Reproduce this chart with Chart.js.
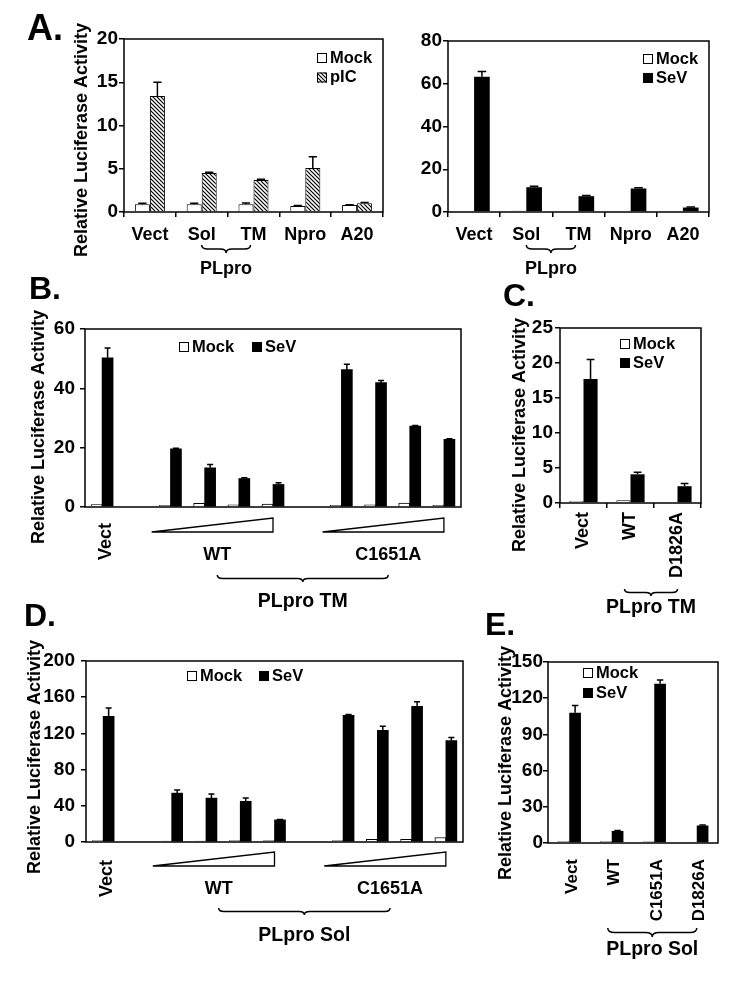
<!DOCTYPE html>
<html><head><meta charset="utf-8">
<script src="https://cdn.jsdelivr.net/npm/chart.js@4.4.1/dist/chart.umd.min.js"></script>
<style>
html,body{margin:0;padding:0;background:#fff;width:729px;height:982px;overflow:hidden}
canvas{position:absolute;left:0;top:0}
</style></head><body>
<canvas id="cA1" width="729" height="982"></canvas>
<canvas id="cA2" width="729" height="982"></canvas>
<canvas id="cB" width="729" height="982"></canvas>
<canvas id="cC" width="729" height="982"></canvas>
<canvas id="cD" width="729" height="982"></canvas>
<canvas id="cE" width="729" height="982"></canvas>
<script>
// ---------------- DATA ----------------
const A1_categories = ['Vect', 'Sol', 'TM', 'Npro', 'A20'];
const A1_mock = [0.9, 0.9, 0.9, 0.7, 0.8];
const A1_mockErr = [0.1, 0.1, 0.15, 0.05, 0.05];
const A1_pIC = [13.4, 4.5, 3.7, 5.1, 1.0];
const A1_pICErr = [1.6, 0.1, 0.1, 1.3, 0.1];
const A1_yTicks = [0, 5, 10, 15, 20];

const A2_categories = ['Vect', 'Sol', 'TM', 'Npro', 'A20'];
const A2_mock = [0.5, 0.6, 0.4, 0.5, 0.4];
const A2_SeV = [63.3, 11.6, 7.4, 11.0, 2.1];
const A2_SeVErr = [2.4, 0.4, 0.3, 0.4, 0.2];
const A2_yTicks = [0, 20, 40, 60, 80];

const B_categories = ['Vect', '', 'WT 1', 'WT 2', 'WT 3', 'WT 4', ' ', 'C1651A 1', 'C1651A 2', 'C1651A 3', 'C1651A 4'];
const B_mock = [0.8, null, 0.6, 1.2, 0.7, 1.0, null, 0.6, 0.7, 1.3, 0.6];
const B_SeV = [50.3, null, 19.6, 13.2, 9.6, 7.6, null, 46.3, 41.9, 27.3, 22.8];
const B_SeVErr = [3.3, null, 0.2, 1.1, 0.3, 0.6, null, 1.8, 0.7, 0.2, 0.2];
const B_yTicks = [0, 20, 40, 60];
const B_groups = ['WT', 'C1651A'];

const C_categories = ['Vect', 'WT', 'D1826A'];
const C_mock = [0.3, 0.4, 0.1];
const C_SeV = [17.7, 4.1, 2.4];
const C_SeVErr = [2.8, 0.3, 0.4];
const C_yTicks = [0, 5, 10, 15, 20, 25];

const D_categories = ['Vect', '', 'WT 1', 'WT 2', 'WT 3', 'WT 4', ' ', 'C1651A 1', 'C1651A 2', 'C1651A 3', 'C1651A 4'];
const D_mock = [1.5, null, 1.0, 1.0, 1.5, 1.5, null, 1.5, 3.0, 3.0, 5.0];
const D_SeV = [139, null, 54, 48.5, 45, 24.5, null, 140, 123.5, 150, 112];
const D_SeVErr = [9, null, 3.5, 4.5, 3.5, 0.5, null, 1, 4.5, 5, 3.5];
const D_yTicks = [0, 40, 80, 120, 160, 200];
const D_groups = ['WT', 'C1651A'];

const E_categories = ['Vect', 'WT', 'C1651A', 'D1826A'];
const E_mock = [1.5, 1.5, 1.2, 0.5];
const E_SeV = [108, 10, 132, 14.5];
const E_SeVErr = [6, 0.3, 3, 0.5];
const E_yTicks = [0, 30, 60, 90, 120, 150];

const Y_TITLE = 'Relative Luciferase Activity';

// ---------------- STYLE / HELPERS ----------------
const FONT = '"Liberation Sans", Arial, Helvetica, sans-serif';
const f = sz => 'bold ' + sz + 'px ' + FONT;
Chart.defaults.font.family = FONT;
Chart.defaults.font.weight = 'bold';
Chart.defaults.color = '#000';

function hatchPattern(ctx) {
  const c = document.createElement('canvas'); c.width = 4; c.height = 4;
  const g = c.getContext('2d');
  g.fillStyle = '#fff'; g.fillRect(0, 0, 4, 4);
  g.strokeStyle = '#000'; g.lineWidth = 1.2;
  g.beginPath();
  g.moveTo(-1, -1); g.lineTo(5, 5);
  g.moveTo(-1, 3); g.lineTo(1, 5);
  g.moveTo(3, -1); g.lineTo(5, 1);
  g.stroke();
  return ctx.createPattern(c, 'repeat');
}

function brace(ctx, x1, x2, y, h) {
  const xm = (x1 + x2) / 2, r = h / 2;
  ctx.beginPath();
  ctx.moveTo(x1, y);
  ctx.quadraticCurveTo(x1, y + r, x1 + r * 1.5, y + r);
  ctx.lineTo(xm - r * 1.5, y + r);
  ctx.quadraticCurveTo(xm, y + r, xm, y + h);
  ctx.quadraticCurveTo(xm, y + r, xm + r * 1.5, y + r);
  ctx.lineTo(x2 - r * 1.5, y + r);
  ctx.quadraticCurveTo(x2, y + r, x2, y);
  ctx.stroke();
}

function text(ctx, s, x, y, sz, align, rot) {
  ctx.save();
  ctx.font = f(sz); ctx.fillStyle = '#000';
  ctx.textAlign = align || 'center'; ctx.textBaseline = 'middle';
  ctx.translate(x, y);
  if (rot) ctx.rotate(rot);
  ctx.fillText(s, 0, 0);
  ctx.restore();
}

function figurePlugin(o) {
  return {
    id: 'figure',
    afterDatasetsDraw(chart) {
      const ctx = chart.ctx, ys = chart.scales.y;
      ctx.save();
      ctx.strokeStyle = '#000'; ctx.lineWidth = 1.5;
      chart.data.datasets.forEach((ds, i) => {
        if (!ds.errors) return;
        chart.getDatasetMeta(i).data.forEach((bar, j) => {
          const v = ds.data[j], e = ds.errors[j];
          if (v == null || e == null) return;
          const top = ys.getPixelForValue(v + e);
          const cw = bar.width * 0.55;
          ctx.beginPath();
          ctx.moveTo(bar.x, bar.y); ctx.lineTo(bar.x, top);
          ctx.moveTo(bar.x - cw / 2, top); ctx.lineTo(bar.x + cw / 2, top);
          ctx.stroke();
        });
      });
      ctx.restore();
    },
    afterDraw(chart) {
      const ctx = chart.ctx, a = chart.chartArea;
      ctx.save();
      ctx.strokeStyle = '#000'; ctx.lineWidth = 1.5;
      ctx.strokeRect(a.left, a.top, a.right - a.left, a.bottom - a.top);
      // legend
      const L = o.legend;
      chart.data.datasets.forEach((ds, k) => {
        const bx = L.x + k * (L.dx || 0), cy = L.y + k * (L.dy || 0);
        ctx.fillStyle = ds.backgroundColor;
        ctx.fillRect(bx, cy - 5, 10, 10);
        ctx.lineWidth = 1; ctx.strokeStyle = '#000';
        ctx.strokeRect(bx + 0.5, cy - 4.5, 9, 9);
        text(ctx, ds.label, bx + 13, cy, 16.5, 'left');
      });
      // panel letter and y title
      if (o.letter) text(ctx, o.letter.t, o.letter.x, o.letter.y, o.letter.sz, 'left');
      if (o.yTitle) text(ctx, Y_TITLE, o.yTitle.x, o.yTitle.y, 18, 'center', -Math.PI / 2);
      ctx.lineWidth = 1.5; ctx.strokeStyle = '#000';
      if (o.decor) o.decor(chart, ctx);
      ctx.restore();
    }
  };
}

function panel(id, o) {
  const ar = o.area;
  return new Chart(document.getElementById(id), {
    type: 'bar',
    data: { labels: o.labels, datasets: o.datasets },
    options: {
      responsive: false, animation: false,
      layout: { padding: { left: 0, top: ar.t, right: 729 - ar.r, bottom: 0 } },
      plugins: { legend: { display: false }, tooltip: { enabled: false } },
      datasets: { bar: { categoryPercentage: o.catPct || 0.6, barPercentage: 1, barThickness: o.barThickness } },
      scales: {
        x: {
          grid: { display: !!o.xTicks, drawOnChartArea: false, drawTicks: true, tickLength: 5, color: '#000', lineWidth: 1.5, offset: true },
          border: { display: false },
          ticks: {
            autoSkip: false, minRotation: o.rot || 0, maxRotation: o.rot || 0, padding: o.xPad,
            labelOffset: o.labelOffset || 0,
            font: { size: o.xFont || 18, weight: 'bold' }, color: '#000',
            callback: function (v) { const l = this.getLabelForValue(v); return o.xLabel ? o.xLabel(l) : l; }
          },
          afterFit: s => { s.height = 982 - ar.b; s.paddingLeft = 0; s.paddingRight = 0; }
        },
        y: {
          min: o.yTicks[0], max: o.yTicks[o.yTicks.length - 1],
          afterBuildTicks: s => { s.ticks = o.yTicks.map(v => ({ value: v })); },
          grid: { display: true, drawOnChartArea: false, drawTicks: true, tickLength: 5, color: '#000', lineWidth: 1.5 },
          border: { display: false },
          ticks: { padding: o.yPad, font: { size: 19, weight: 'bold' }, color: '#000' },
          afterFit: s => { s.width = ar.l; s.paddingTop = 0; s.paddingBottom = 0; }
        }
      }
    },
    plugins: [figurePlugin(o)]
  });
}

const mockStyle = { backgroundColor: '#ffffff', borderColor: '#000', borderWidth: 1 };
const sevStyle = { backgroundColor: '#000000', borderColor: '#000', borderWidth: 0 };

// ---------- decorations ----------
function aDecor(chart, ctx) {
  const x = chart.scales.x, b = chart.chartArea.bottom;
  const x1 = x.getPixelForValue(1), x2 = x.getPixelForValue(2) - 3;
  brace(ctx, x1, x2, b + 33, 8);
  text(ctx, 'PLpro', (x1 + x2) / 2, b + 57, 18);
}

function wedgeDecor(groups, construct, off) {
  return (chart, ctx) => {
    const x = chart.scales.x, b = chart.chartArea.bottom, labels = chart.data.labels;
    const w = x.getPixelForValue(1) - x.getPixelForValue(0);
    const mids = [];
    groups.forEach(g => {
      const idx = labels.map((l, i) => l.indexOf(g + ' ') === 0 ? i : -1).filter(i => i >= 0);
      const left = x.getPixelForValue(idx[0]) - 0.55 * w;
      const right = x.getPixelForValue(idx[idx.length - 1]);
      ctx.save();
      ctx.beginPath();
      ctx.moveTo(left, b + off.triB); ctx.lineTo(right, b + off.triT); ctx.lineTo(right, b + off.triB);
      ctx.closePath();
      ctx.fillStyle = '#fff'; ctx.fill();
      ctx.lineWidth = 1.3; ctx.stroke();
      ctx.restore();
      const m = (left + right) / 2 + 5;
      mids.push(m);
      text(ctx, g, m, b + off.lab, 18);
    });
    brace(ctx, mids[0], mids[1], b + off.brace, off.bh);
    text(ctx, construct, (mids[0] + mids[1]) / 2, b + off.title, 19.5);
  };
}

function rotBraceDecor(firstCat, lastCat, construct, off) {
  return (chart, ctx) => {
    const x = chart.scales.x, b = chart.chartArea.bottom, labels = chart.data.labels;
    const x1 = x.getPixelForValue(labels.indexOf(firstCat)) - off.shift;
    const x2 = x.getPixelForValue(labels.indexOf(lastCat));
    brace(ctx, x1, x2, b + off.brace, off.bh);
    text(ctx, construct, (x1 + x2) / 2, b + off.title, 19.5);
  };
}

// ---------- charts ----------
const pIC = hatchPattern(document.getElementById('cA1').getContext('2d'));

panel('cA1', {
  labels: A1_categories,
  datasets: [
    Object.assign({ label: 'Mock', data: A1_mock, errors: A1_mockErr }, mockStyle),
    { label: 'pIC', data: A1_pIC, errors: A1_pICErr, backgroundColor: pIC, borderColor: '#000', borderWidth: 1 }
  ],
  area: { l: 124, t: 39, r: 383, b: 212 }, yTicks: A1_yTicks, catPct: 0.58,
  xTicks: true, xPad: 7, yPad: 1,
  legend: { x: 317, y: 58, dy: 19.5 },
  letter: { t: 'A.', x: 27, y: 30, sz: 36 }, yTitle: { x: 82, y: 140 },
  decor: aDecor
});

panel('cA2', {
  labels: A2_categories,
  datasets: [
    Object.assign({ label: 'Mock', data: A2_mock }, mockStyle),
    Object.assign({ label: 'SeV', data: A2_SeV, errors: A2_SeVErr }, sevStyle)
  ],
  area: { l: 448, t: 41, r: 709, b: 212 }, yTicks: A2_yTicks, catPct: 0.6,
  xTicks: true, xPad: 7, yPad: 1,
  legend: { x: 643, y: 59, dy: 19 },
  decor: aDecor
});

panel('cB', {
  labels: B_categories,
  datasets: [
    Object.assign({ label: 'Mock', data: B_mock }, mockStyle),
    Object.assign({ label: 'SeV', data: B_SeV, errors: B_SeVErr }, sevStyle)
  ],
  area: { l: 85, t: 329, r: 461, b: 507 }, yTicks: B_yTicks, barThickness: 11,
  xTicks: false, rot: 90, xPad: 11, yPad: 5, labelOffset: 4,
  xLabel: l => (l === 'Vect' ? l : ''),
  legend: { x: 179, y: 347, dx: 73 },
  letter: { t: 'B.', x: 29, y: 290, sz: 32 }, yTitle: { x: 39, y: 427 },
  decor: wedgeDecor(B_groups, 'PLpro TM', { triB: 25, triT: 11, lab: 48, brace: 68, bh: 7, title: 95 })
});

panel('cC', {
  labels: C_categories,
  datasets: [
    Object.assign({ label: 'Mock', data: C_mock }, mockStyle),
    Object.assign({ label: 'SeV', data: C_SeV, errors: C_SeVErr }, sevStyle)
  ],
  area: { l: 560, t: 328, r: 701, b: 503 }, yTicks: C_yTicks, catPct: 0.6,
  xTicks: true, rot: 90, xPad: 4, yPad: 2,
  legend: { x: 620, y: 344, dy: 19 },
  letter: { t: 'C.', x: 503, y: 297, sz: 32 }, yTitle: { x: 520, y: 435 },
  decor: rotBraceDecor('WT', 'D1826A', 'PLpro TM', { shift: 6, brace: 86, bh: 7, title: 105 })
});

panel('cD', {
  labels: D_categories,
  datasets: [
    Object.assign({ label: 'Mock', data: D_mock }, mockStyle),
    Object.assign({ label: 'SeV', data: D_SeV, errors: D_SeVErr }, sevStyle)
  ],
  area: { l: 86, t: 661, r: 463, b: 842 }, yTicks: D_yTicks, barThickness: 11,
  xTicks: false, rot: 90, xPad: 13, yPad: 6, labelOffset: 4,
  xLabel: l => (l === 'Vect' ? l : ''),
  legend: { x: 187, y: 676, dx: 72 },
  letter: { t: 'D.', x: 24, y: 617, sz: 32 }, yTitle: { x: 35, y: 757 },
  decor: wedgeDecor(D_groups, 'PLpro Sol', { triB: 24, triT: 10, lab: 47, brace: 66, bh: 7, title: 94 })
});

panel('cE', {
  labels: E_categories,
  datasets: [
    Object.assign({ label: 'Mock', data: E_mock }, mockStyle),
    Object.assign({ label: 'SeV', data: E_SeV, errors: E_SeVErr }, sevStyle)
  ],
  area: { l: 548, t: 662, r: 718, b: 843 }, yTicks: E_yTicks, catPct: 0.55,
  xTicks: false, rot: 90, xPad: 11, yPad: 0, labelOffset: 3, xFont: 17,
  legend: { x: 583, y: 673, dy: 20 },
  letter: { t: 'E.', x: 485, y: 626, sz: 32 }, yTitle: { x: 506, y: 763 },
  decor: rotBraceDecor('WT', 'D1826A', 'PLpro Sol', { shift: 4, brace: 85, bh: 9, title: 107 })
});
</script>
</body></html>
